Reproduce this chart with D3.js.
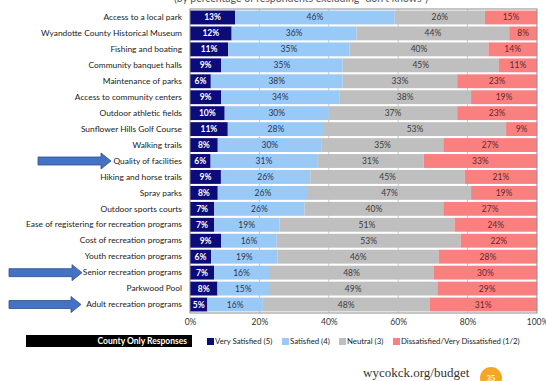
<!DOCTYPE html>
<html>
<head>
<meta charset="utf-8">
<script src="https://cdn.jsdelivr.net/npm/d3@7"></script>
<style>
  html, body { margin: 0; padding: 0; background: #fff; }
  svg { display: block; }
</style>
</head>
<body>
<svg id="chart" width="546" height="381"></svg>
<script>
// Satisfaction with parks and recreation services, county respondents
const categories = [
  "Access to a local park",
  "Wyandotte County Historical Museum",
  "Fishing and boating",
  "Community banquet halls",
  "Maintenance of parks",
  "Access to community centers",
  "Outdoor athletic fields",
  "Sunflower Hills Golf Course",
  "Walking trails",
  "Quality of facilities",
  "Hiking and horse trails",
  "Spray parks",
  "Outdoor sports courts",
  "Ease of registering for recreation programs",
  "Cost of recreation programs",
  "Youth recreation programs",
  "Senior recreation programs",
  "Parkwood Pool",
  "Adult recreation programs"
];
const verySatisfied = [13, 12, 11, 9, 6, 9, 10, 11, 8, 6, 9, 8, 7, 7, 9, 6, 7, 8, 5];
const satisfied     = [46, 36, 35, 35, 38, 34, 30, 28, 30, 31, 26, 26, 26, 19, 16, 19, 16, 15, 16];
const neutral       = [26, 44, 40, 45, 33, 38, 37, 53, 35, 31, 45, 47, 40, 51, 53, 46, 48, 49, 48];
const dissatisfied  = [15, 8, 14, 11, 23, 19, 23, 9, 27, 33, 21, 19, 27, 24, 22, 28, 30, 29, 31];

const seriesNames = ["Very Satisfied (5)", "Satisfied (4)", "Neutral (3)", "Dissatisfied/Very Dissatisfied (1/2)"];
const seriesKeys = ["vs", "s", "n", "d"];
const seriesColors = ["#0b0b7a", "#99c9f7", "#bfbfbf", "#fa8080"];
const labelColors = ["#ffffff", "#2b3550", "#3a3a3a", "#5a2a2a"];
const xTicks = [0, 0.2, 0.4, 0.6, 0.8, 1];
const highlighted = ["Quality of facilities", "Senior recreation programs", "Adult recreation programs"];

const SANS = "Lato, 'Open Sans', sans-serif";
const SERIF = "'Liberation Serif', 'DejaVu Serif', serif";

const rows = categories.map((c, i) => ({
  cat: c, vs: verySatisfied[i], s: satisfied[i], n: neutral[i], d: dissatisfied[i]
}));

const svg = d3.select("#chart");
const plot = { left: 190, right: 537, top: 9, bottom: 313 };

const x = d3.scaleLinear().domain([0, 1]).range([plot.left, plot.right]);
const y = d3.scaleBand().domain(categories)
  .range([plot.top + 0.5, plot.bottom - 0.5])
  .paddingInner(0.13).paddingOuter(0.065);

// 100% stacked layout
const stacked = d3.stack().keys(seriesKeys).offset(d3.stackOffsetExpand)(rows);

// title (runs off the top edge)
svg.append("text")
  .attr("x", 301).attr("y", 2)
  .attr("text-anchor", "middle")
  .style("font-family", SANS)
  .attr("font-size", 10.5).attr("fill", "#555")
  .text("(by percentage of respondents excluding \u201cdon\u2019t knows\u201d)");

// vertical gridlines
svg.append("g").selectAll("line").data(xTicks.slice(1, -1)).join("line")
  .attr("x1", d => x(d)).attr("x2", d => x(d))
  .attr("y1", plot.top).attr("y2", plot.bottom)
  .attr("stroke", "#c8c8c8").attr("stroke-width", 1);

// stacked bars
const layers = svg.append("g").selectAll("g").data(stacked).join("g")
  .attr("fill", (d, i) => seriesColors[i]);
layers.selectAll("rect").data(d => d).join("rect")
  .attr("x", d => x(d[0]))
  .attr("width", d => x(d[1]) - x(d[0]))
  .attr("y", d => y(d.data.cat))
  .attr("height", y.bandwidth());

// segment value labels
const labelLayers = svg.append("g").selectAll("g").data(stacked).join("g");
labelLayers.each(function(layer, li) {
  d3.select(this).selectAll("text").data(layer).join("text")
    .attr("x", d => (x(d[0]) + x(d[1])) / 2)
    .attr("y", d => y(d.data.cat) + y.bandwidth() / 2)
    .attr("dy", "0.35em")
    .attr("text-anchor", "middle")
    .style("font-family", SANS)
    .attr("font-size", 8.5)
    .attr("font-weight", li === 0 ? "bold" : "normal")
    .attr("fill", labelColors[li])
    .text(d => d.data[seriesKeys[li]] + "%");
});

// plot frame
svg.append("rect")
  .attr("x", plot.left).attr("y", plot.top)
  .attr("width", plot.right - plot.left).attr("height", plot.bottom - plot.top)
  .attr("fill", "none").attr("stroke", "#8c8c8c").attr("stroke-width", 1);

// category axis
const yAxis = svg.append("g")
  .attr("transform", `translate(${plot.left - 6},0)`)
  .call(d3.axisLeft(y).tickSize(0).tickPadding(2));
yAxis.select(".domain").remove();
yAxis.selectAll("text").attr("font-size", null).attr("font-family", null)
  .style("font-family", SANS).style("font-size", "8.4px").attr("fill", "#222");

// percentage axis
const xAxis = svg.append("g")
  .attr("transform", `translate(0,${plot.bottom + 4})`)
  .call(d3.axisBottom(x).tickValues(xTicks).tickFormat(d3.format(".0%")).tickSize(0).tickPadding(2));
xAxis.select(".domain").remove();
xAxis.selectAll("text")
  .style("font-family", SANS).style("font-size", "8.5px").attr("fill", "#333");

// highlight arrows
const arrowTails = { "Quality of facilities": 38, "Senior recreation programs": 9, "Adult recreation programs": 9 };
const arrowTips = { "Quality of facilities": 111, "Senior recreation programs": 82, "Adult recreation programs": 81 };
svg.append("g").selectAll("path").data(highlighted).join("path")
  .attr("d", c => {
    const cy = y(c) + y.bandwidth() / 2;
    const x0 = arrowTails[c], x2 = arrowTips[c], x1 = x2 - 10;
    return `M${x0},${cy - 4}L${x1},${cy - 4}L${x1},${cy - 8}L${x2},${cy}L${x1},${cy + 8}L${x1},${cy + 4}L${x0},${cy + 4}Z`;
  })
  .attr("fill", "#4472c4").attr("stroke", "#2f528f").attr("stroke-width", 0.8);

// legend bar
svg.append("rect").attr("x", 26).attr("y", 335).attr("width", 166).attr("height", 12).attr("fill", "#000");
svg.append("text").attr("x", 187).attr("y", 341).attr("dy", "0.35em")
  .attr("text-anchor", "end").style("font-family", SANS)
  .attr("font-size", 8.5).attr("font-weight", "bold").attr("fill", "#fff")
  .text("County Only Responses");

const legendX = [207, 282, 339, 393];
const legend = svg.append("g").selectAll("g").data(seriesNames).join("g")
  .attr("transform", (d, i) => `translate(${legendX[i]},338)`);
legend.append("rect").attr("width", 7).attr("height", 7).attr("fill", (d, i) => seriesColors[i]);
legend.append("text").attr("x", 8).attr("y", 3.5).attr("dy", "0.35em")
  .style("font-family", SANS)
  .attr("font-size", 7.8).attr("fill", "#222").text(d => d);

// page footer
svg.append("text").attr("x", 363).attr("y", 377)
  .style("font-family", SERIF)
  .attr("font-size", 13).attr("fill", "#333").text("wycokck.org/budget");
svg.append("circle").attr("cx", 491).attr("cy", 378).attr("r", 11).attr("fill", "#f5a623");
svg.append("text").attr("x", 491).attr("y", 380.5).attr("text-anchor", "middle")
  .style("font-family", SERIF).attr("font-weight", "bold")
  .attr("font-size", 8.5).attr("fill", "#fff").text("35");
</script>
</body>
</html>
